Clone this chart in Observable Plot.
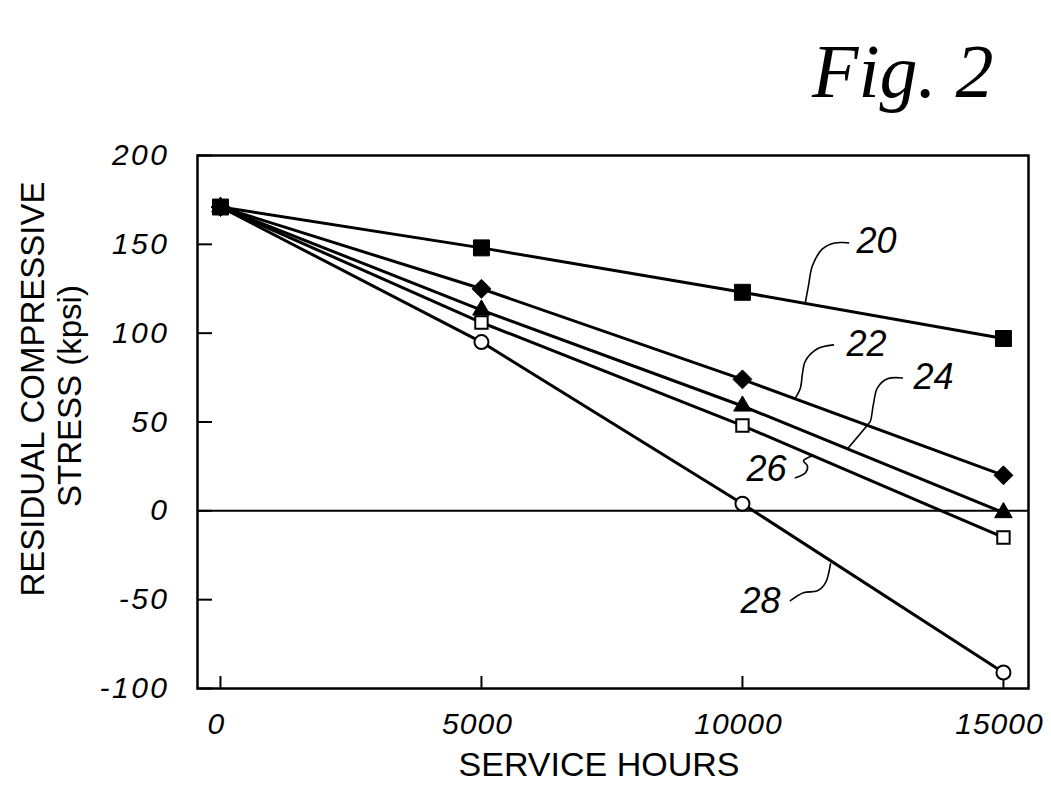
<!DOCTYPE html>
<html><head><meta charset="utf-8">
<script src="https://cdn.jsdelivr.net/npm/d3@7"></script>
<script src="https://cdn.jsdelivr.net/npm/@observablehq/plot@0.6"></script>
<style>
html,body{margin:0;padding:0;background:#fff;}
#chart svg{display:block;background:#fff;}
g[aria-label="y-axis tick label"] text {letter-spacing:2.5px;}
g[aria-label="x-axis tick label"] text {letter-spacing:1px;}
g[aria-label="series-label"] text {letter-spacing:3px;}
g[aria-label="title2"] text {letter-spacing:4px;}
g[aria-label="fig"] text {letter-spacing:4px;}
</style></head><body><div id="chart"></div>
<script>
// ---- data ----
const hours = [0, 5000, 10000, 15000];
const stress20 = [171, 148, 123, 97];   // filled squares
const stress22 = [171, 125, 74, 20];    // filled diamonds
const stress24 = [171, 113, 59, -1];    // filled triangles
const stress26 = [171, 106, 48, -15];   // open squares
const stress28 = [171, 95, 4, -91];     // open circles

const xTicks = [0, 5000, 10000, 15000];
const yTicks = [-100, -50, 0, 50, 100, 150, 200];

const seriesNames = ["20", "22", "24", "26", "28"];
const labelX = [12567, 12375, 13659, 10460, 10345];
const labelY = [151.4, 93.4, 74.8, 23.1, -51.2];

// leader (callout) curves, in data units
const leader20X = [11207, 11264, 11340, 11532, 11767, 12030];
const leader20Y = [117.6, 126.6, 137.9, 147.4, 150.8, 150.8];
const leader22X = [11015, 11111, 11149, 11207, 11437, 11743];
const leader22Y = [63.6, 69.2, 77.1, 84.4, 91.2, 93.4];
const leader24X = [12030, 12414, 12452, 12510, 12586, 12778, 13065];
const leader24Y = [35.5, 49.0, 50.6, 60.2, 69.2, 74.3, 74.8];
const leader26X = [11015, 11207, 11245, 11168, 11245, 11340];
const leader26Y = [18.6, 21.4, 25.3, 28.1, 29.8, 31.0];
const leader28X = [10919, 11168, 11437, 11590, 11686];
const leader28Y = [-50.6, -46.1, -45.0, -40.5, -29.8];

// ---- build tables ----
const rows = (vals, id) => hours.map((h, i) => ({hours: h, stress: vals[i], id}));
const s20 = rows(stress20, "20"), s22 = rows(stress22, "22"), s24 = rows(stress24, "24"),
      s26 = rows(stress26, "26"), s28 = rows(stress28, "28");
const labels = seriesNames.map((n, i) => ({name: n, x: labelX[i], y: labelY[i]}));
const leaders = [
  [leader20X, leader20Y, "20"], [leader22X, leader22Y, "22"], [leader24X, leader24Y, "24"],
  [leader26X, leader26Y, "26"], [leader28X, leader28Y, "28"]
].flatMap(([xs, ys, id]) => xs.map((x, i) => ({x, y: ys[i], id})));

const font = "'Liberation Sans', Arial, sans-serif";
const plain = (d) => String(d); // ASCII hyphen minus, as in the figure

const chart = Plot.plot({
  width: 1051,
  height: 791,
  marginLeft: 197,
  marginRight: 23,
  marginTop: 155,
  marginBottom: 103,
  x: {domain: [-440, 15480]},
  y: {domain: [-100, 200]},
  style: {fontFamily: font, background: "#fff", color: "#000"},
  marks: [
    Plot.ruleY([0], {stroke: "#000", strokeWidth: 2}),
    Plot.axisY({ticks: yTicks, tickSize: 15, dx: 15, tickFormat: () => "", label: null, strokeWidth: 2}),
    Plot.axisY({ticks: yTicks, tickSize: 0, tickPadding: 28, label: null, fontSize: 30, fontStyle: "italic", fill: "#000", tickFormat: plain}),
    Plot.axisX({ticks: xTicks, tickSize: 12, dy: -12, tickFormat: () => "", label: null, strokeWidth: 2}),
    Plot.axisX({ticks: xTicks, tickSize: 0, tickPadding: 24, dx: -4, label: null, fontSize: 30, fontStyle: "italic", fill: "#000", tickFormat: plain}),
    Plot.frame({stroke: "#000", strokeWidth: 2.5}),
    // leaders
    Plot.line(leaders, {x: "x", y: "y", z: "id", curve: "catmull-rom", stroke: "#000", strokeWidth: 1.6}),
    // series lines
    Plot.line(s28, {x: "hours", y: "stress", stroke: "#000", strokeWidth: 3}),
    Plot.line(s26, {x: "hours", y: "stress", stroke: "#000", strokeWidth: 3}),
    Plot.line(s24, {x: "hours", y: "stress", stroke: "#000", strokeWidth: 3}),
    Plot.line(s22, {x: "hours", y: "stress", stroke: "#000", strokeWidth: 3}),
    Plot.line(s20, {x: "hours", y: "stress", stroke: "#000", strokeWidth: 3}),
    // markers
    Plot.dot(s28, {x: "hours", y: "stress", symbol: "circle", r: 7, fill: "#fff", stroke: "#000", strokeWidth: 2}),
    Plot.dot(s26, {x: "hours", y: "stress", symbol: "square", r: 7, fill: "#fff", stroke: "#000", strokeWidth: 2}),
    Plot.dot(s24, {x: "hours", y: "stress", symbol: "triangle", r: 6.5, fill: "#000", stroke: "#000", strokeWidth: 1}),
    Plot.dot(s22, {x: "hours", y: "stress", symbol: "diamond2", r: 8.5, fill: "#000", stroke: "#000", strokeWidth: 1}),
    Plot.dot(s20, {x: "hours", y: "stress", symbol: "square", r: 9, fill: "#000", stroke: "#000", strokeWidth: 1}),
    // series labels
    Plot.text(labels, {x: "x", y: "y", text: "name", fontSize: 36, fontStyle: "italic", fill: "#000", ariaLabel: "series-label"}),
    // axis titles
    Plot.text(["RESIDUAL COMPRESSIVE"], {frameAnchor: "left", textAnchor: "middle", rotate: -90, dx: -164, dy: -33, fontSize: 33, fill: "#000"}),
    Plot.text(["STRESS (kpsi)"], {frameAnchor: "left", textAnchor: "middle", rotate: -90, dx: -127, dy: -26, fontSize: 33, fill: "#000", ariaLabel: "title2"}),
    Plot.text(["SERVICE HOURS"], {frameAnchor: "bottom", textAnchor: "middle", dx: -14, dy: 87, fontSize: 34, fill: "#000"}),
    Plot.text(["Fig. 2"], {frameAnchor: "top-right", textAnchor: "end", dx: -35, dy: -112, fontSize: 76, fontStyle: "italic", fontFamily: "'Liberation Serif', serif", fill: "#000", ariaLabel: "fig"})
  ]
});
document.getElementById("chart").appendChild(chart);
</script>
</body></html>
